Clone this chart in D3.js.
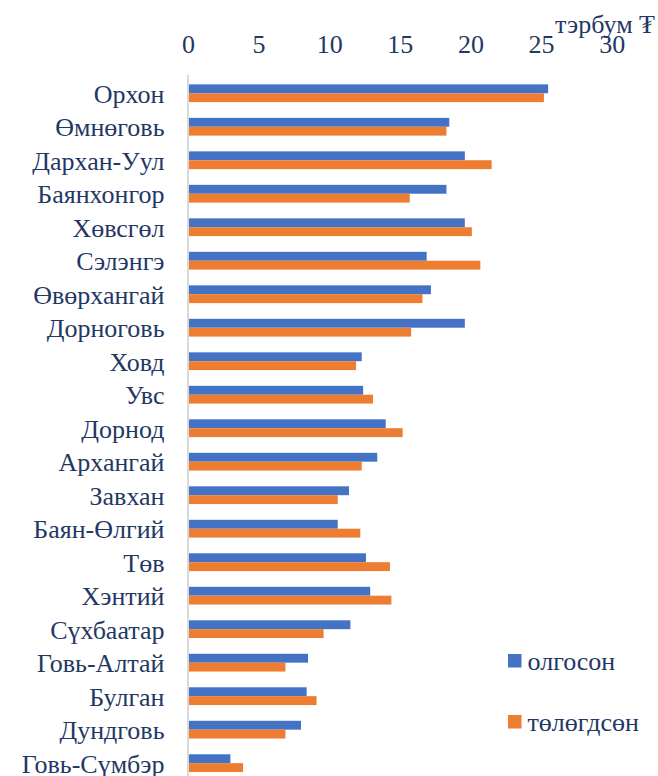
<!DOCTYPE html>
<html><head><meta charset="utf-8">
<script src="https://cdn.jsdelivr.net/npm/d3@7"></script>
<style>body{margin:0;background:#fff}svg{display:block}</style>
</head><body>
<svg id="c" width="658" height="776" style="font-family:'Liberation Serif',Tinos,'Times New Roman',serif"></svg>
<script>
const categories = ["Орхон","Өмнөговь","Дархан-Уул","Баянхонгор","Хөвсгөл","Сэлэнгэ","Өвөрхангай","Дорноговь","Ховд","Увс","Дорнод","Архангай","Завхан","Баян-Өлгий","Төв","Хэнтий","Сүхбаатар","Говь-Алтай","Булган","Дундговь","Говь-Сүмбэр"];
const olgoson =   [25.5,18.5,19.6,18.3,19.6,16.9,17.2,19.6,12.3,12.4,14.0,13.4,11.4,10.6,12.6,12.9,11.5,8.5,8.4,8.0,3.0];
const tologdson = [25.2,18.3,21.5,15.7,20.1,20.7,16.6,15.8,11.9,13.1,15.2,12.3,10.6,12.2,14.3,14.4,9.6,6.9,9.1,6.9,3.9];
const seriesNames = ["олгосон","төлөгдсөн"];
const tickValues = [0,5,10,15,20,25,30];
const unitLabel = "тэрбум ₮";

const colors = ["#4472C4","#ED7D31"];
const textColor = "#1f3864";
const fs = 26;

const svg = d3.select("#c");
const x = d3.scaleLinear().domain([0,30]).range([188, 611.7]);
const y = d3.scaleBand().domain(categories).range([76.5, 779.9]).paddingInner(0.47).paddingOuter(0.235);
const sub = d3.scaleBand().domain([0,1]).range([0, y.bandwidth()]);

function styleText(sel){
  sel.style("font-family","Liberation Serif").style("font-size",fs+"px").attr("fill",textColor);
}

svg.append("line").attr("x1",x(0)).attr("x2",x(0)).attr("y1",75).attr("y2",776)
  .attr("stroke","#d9d9d9").attr("stroke-width",2);

const data = [olgoson, tologdson];
categories.forEach((c,i)=>{
  data.forEach((arr,s)=>{
    svg.append("rect").attr("x",x(0)+1).attr("y",y(c)+sub(s))
      .attr("width",x(arr[i])-x(0)-1).attr("height",sub.bandwidth())
      .attr("fill",colors[s]);
  });
});

const ax = d3.axisTop(x).tickValues(tickValues).tickSize(0).tickPadding(0);
const g = svg.append("g").attr("transform","translate(0,53)").call(ax);
g.attr("font-family",null).attr("font-size",null);
g.select(".domain").remove();
g.selectAll("text").call(styleText).attr("dy",0);

const yAx = d3.axisLeft(y).tickSize(0).tickPadding(0);
const gy = svg.append("g").attr("transform","translate(164.5,0)").call(yAx);
gy.attr("font-family",null).attr("font-size",null);
gy.select(".domain").remove();
gy.selectAll("text").call(styleText).attr("dy","0.36em");

svg.append("text").attr("x",655).attr("y",33).attr("text-anchor","end")
  .call(styleText).text(unitLabel);

seriesNames.forEach((n,s)=>{
  const ly = 661 + s*61;
  svg.append("rect").attr("x",508).attr("y",ly-7).attr("width",13.5).attr("height",13.5).attr("fill",colors[s]);
  svg.append("text").attr("x",527.5).attr("y",ly+9).call(styleText).text(n);
});
</script>
</body></html>
